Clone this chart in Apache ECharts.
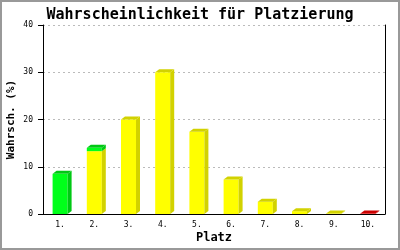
<!DOCTYPE html>
<html>
<head>
<meta charset="utf-8">
<script src="https://cdn.jsdelivr.net/npm/echarts@6/dist/echarts.min.js"></script>
<style>
html,body{margin:0;padding:0;background:#fff;}
#c{width:400px;height:250px;}
</style>
</head>
<body>
<div id="c"></div>
<script>
// ---- data ----
const places = ['1.', '2.', '3.', '4.', '5.', '6.', '7.', '8.', '9.', '10.'];
const yellowVals = [0, 13.3, 20.0, 30.0, 17.4, 7.3, 2.6, 0.6, 0.1, 0];
const greenVals  = [8.5, 0.7, 0, 0, 0, 0, 0, 0, 0, 0];
const redVals    = [0, 0, 0, 0, 0, 0, 0, 0, 0, 0.1];
const yTicks = [0, 10, 20, 30, 40];

const titleText = 'Wahrscheinlichkeit für Platzierung';
const yName = 'Wahrsch. (%)';
const xName = 'Platz';

const COLORS = [
  { front: '#ffff00', dark: '#d2d200' },
  { front: '#00ff1a', dark: '#00c814' },
  { front: '#ff0000', dark: '#cc0000' }
];
const MONO = '"DejaVu Sans Mono", "Liberation Mono", monospace';

const data = places.map((p, i) => [i, yellowVals[i], greenVals[i], redVals[i]]);

function renderItem(params, api) {
  const i = api.value(0);
  const vals = [api.value(1), api.value(2), api.value(3)];
  const half = 7.5, dx = 4, dy = 3;
  const cx = api.coord([i, 0])[0];
  const x1 = cx - half, x2 = cx + half;
  const children = [];
  let base = 0;
  let topIdx = -1;
  vals.forEach((v, k) => { if (v > 0) topIdx = k; });
  vals.forEach((v, k) => {
    if (!(v > 0)) return;
    const y0 = api.coord([i, base])[1];
    const y1 = api.coord([i, base + v])[1];
    const c = COLORS[k];
    children.push({
      type: 'rect',
      shape: { x: x1, y: y1, width: x2 - x1, height: y0 - y1 },
      style: { fill: c.front }
    });
    children.push({
      type: 'polygon',
      shape: { points: [[x2, y1], [x2 + dx, y1 - dy], [x2 + dx, y0 - dy], [x2, y0]] },
      style: { fill: c.dark }
    });
    if (k === topIdx) {
      children.push({
        type: 'polygon',
        shape: { points: [[x1, y1], [x1 + dx, y1 - dy], [x2 + dx, y1 - dy], [x2, y1]] },
        style: { fill: c.dark }
      });
    }
    base += v;
  });
  return { type: 'group', children };
}

const chart = echarts.init(document.getElementById('c'), null, { renderer: 'canvas' });
chart.setOption({
  animation: false,
  backgroundColor: '#ffffff',
  title: {
    text: titleText,
    left: 'center',
    top: 3,
    textStyle: { fontFamily: MONO, fontWeight: 'bold', fontSize: 15, color: '#000' }
  },
  grid: { left: 43, right: 15, top: 25, bottom: 36, containLabel: false, outerBoundsMode: 'none' },
  xAxis: {
    type: 'category',
    data: places,
    name: xName,
    nameLocation: 'middle',
    nameGap: 18,
    nameMoveOverlap: false,
    nameTextStyle: { fontFamily: MONO, fontWeight: 'bold', fontSize: 12, color: '#000' },
    axisLine: { lineStyle: { color: '#000', width: 1 } },
    axisTick: { show: false },
    axisLabel: { fontFamily: MONO, fontSize: 8, color: '#000', margin: 7 },
    splitLine: { show: false }
  },
  yAxis: [{
    type: 'value',
    min: yTicks[0],
    max: yTicks[yTicks.length - 1],
    interval: 10,
    name: yName,
    nameLocation: 'middle',
    nameGap: 26,
    nameMoveOverlap: false,
    nameTextStyle: { fontFamily: MONO, fontWeight: 'bold', fontSize: 11, color: '#000' },
    axisLine: { show: true, lineStyle: { color: '#000', width: 1 } },
    axisTick: { show: true, length: 5, lineStyle: { color: '#000' } },
    axisLabel: { fontFamily: MONO, fontSize: 8, color: '#000', margin: 10 },
    splitLine: { show: true, lineStyle: { color: '#bbbbbb', type: [2, 3], width: 1 } }
  }, {
    type: 'value',
    position: 'right',
    min: yTicks[0],
    max: yTicks[yTicks.length - 1],
    interval: 10,
    axisLine: { show: true, lineStyle: { color: '#000', width: 1 } },
    axisTick: { show: false },
    axisLabel: { show: false },
    splitLine: { show: false }
  }],
  graphic: [{
    type: 'rect',
    shape: { x: 1, y: 1, width: 398, height: 248 },
    style: { fill: 'none', stroke: '#999999', lineWidth: 2 },
    silent: true,
    z: 100
  }],
  series: [{
    type: 'custom',
    renderItem: renderItem,
    data: data,
    encode: { x: 0, y: [1, 2, 3] },
    clip: false
  }]
});
</script>
</body>
</html>
